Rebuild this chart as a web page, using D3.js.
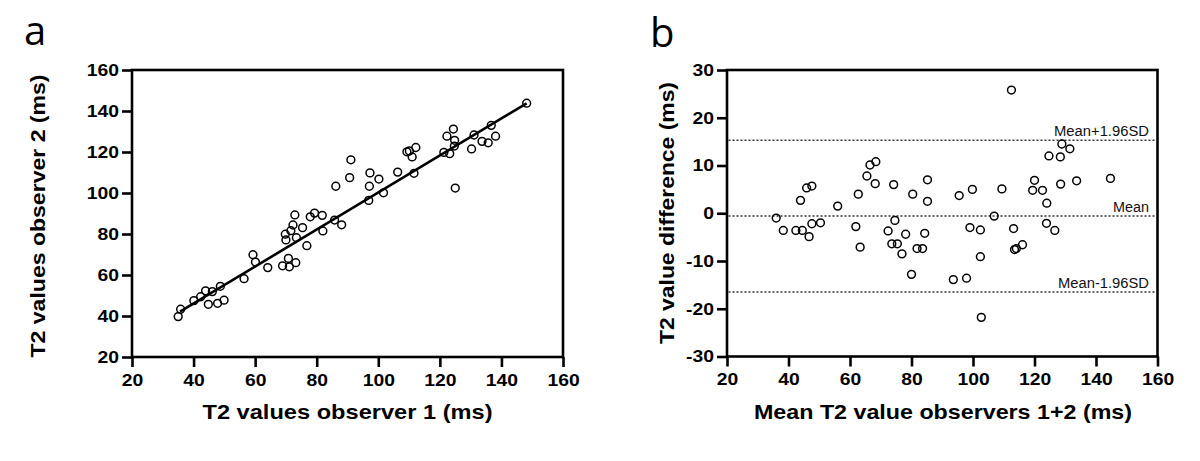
<!DOCTYPE html>
<html><head><meta charset="utf-8">
<script src="https://cdn.jsdelivr.net/npm/d3@7"></script>
<style>body{margin:0;background:#fff} svg{display:block}</style>
</head><body><svg id="c" width="1200" height="461"></svg>
<script>
// Panel a: T2 values observer 1 vs observer 2 (ms)
const obs1 = [35.0,35.8,40.1,42.3,43.9,46.1,44.8,47.8,49.9,48.7,56.4,59.3,60.1,64.1,68.9,70.8,71.1,73.2,69.8,70.0,
              71.6,72.3,72.9,73.4,75.4,76.8,77.9,79.3,81.8,82.0,85.8,88.1,86.2,90.7,91.1,96.9,97.1,97.3,100.2,101.7,
              106.3,109.3,110.1,111.0,112.2,111.6,121.3,123.2,122.3,124.4,124.8,124.7,125.0,130.3,131.1,133.7,135.7,136.7,138.1,148.2];
const obs2 = [39.7,43.3,47.5,49.4,52.3,51.9,45.7,46.2,47.7,54.5,58.2,69.9,66.3,63.6,64.5,68.1,64.0,66.0,79.9,77.1,
              81.6,84.4,89.3,78.2,83.1,74.3,88.4,90.2,89.1,81.5,86.8,84.5,103.3,107.5,116.2,96.4,103.3,109.8,106.8,100.1,
              110.2,120.1,120.5,117.6,122.2,109.6,119.8,119.2,127.7,131.2,125.7,122.9,102.4,121.5,128.3,125.2,124.5,133.0,127.7,143.8];
const fitSlope = 0.903;
const fitIntercept = 9.95;
const fitRange = [35.6, 148.2];

// Panel b: Bland-Altman
const baMean = [112.5,128.9,131.5,124.7,128.4,144.7,120.0,133.7,128.5,119.4,122.6,124.0,123.9,126.6,109.4,106.9,113.2,113.5,114.1,116.1,
                99.8,95.5,99.0,102.4,102.4,93.6,97.9,102.7,85.2,85.2,80.4,74.2,84.3,74.6,72.4,78.1,73.6,75.4,76.9,81.8,
                83.6,80.0,66.5,68.4,65.5,68.2,62.7,61.9,63.3,56.0,45.9,47.6,43.9,36.0,38.3,42.4,44.5,47.6,46.7,50.4];
const baDiff = [25.8,14.5,13.5,12.0,11.8,7.3,6.9,6.8,6.1,4.8,4.8,2.1,-2.1,-3.6,5.1,-0.6,-3.2,-7.6,-7.4,-6.6,
                5.0,3.7,-3.0,-3.5,-9.1,-13.9,-13.6,-21.8,7.0,2.5,4.0,6.0,-4.2,-1.5,-3.7,-4.4,-6.4,-6.4,-8.5,-7.4,
                -7.4,-12.8,10.1,10.8,7.8,6.2,4.0,-2.8,-7.1,1.5,5.3,5.7,2.7,-1.0,-3.6,-3.6,-3.6,-2.2,-4.9,-2.0];
const limitLabels = ["Mean+1.96SD", "Mean", "Mean-1.96SD"];
const limitValues = [15.3, -0.6, -16.5];

// Ticks
const xTicks = [20,40,60,80,100,120,140,160];
const yTicksA = [20,40,60,80,100,120,140,160];
const yTicksB = [-30,-20,-10,0,10,20,30];

const svg = d3.select("#c");
const FONT = "'Liberation Sans', Arial, sans-serif";

function stretchText(sel, sx) {
  sel.each(function(){
    const len = this.getComputedTextLength();
    d3.select(this).attr("textLength", len*sx).attr("lengthAdjust","spacingAndGlyphs");
  });
}

function panel(box, xDomain, yDomain, yTicks) {
  const x = d3.scaleLinear().domain(xDomain).range([box.l, box.r]);
  const y = d3.scaleLinear().domain(yDomain).range([box.b, box.t]);
  const g = svg.append("g");
  const ax = g.append("g").attr("transform", `translate(0,${box.b})`)
    .call(d3.axisBottom(x).tickValues(xTicks).tickSize(10).tickPadding(7).tickFormat(d3.format("d")));
  const ay = g.append("g").attr("transform", `translate(${box.l},0)`)
    .call(d3.axisLeft(y).tickValues(yTicks).tickSize(10).tickPadding(3).tickFormat(d => d < 0 ? "-" + Math.abs(d) : d));
  [ax, ay].forEach(a => {
    a.select(".domain").remove();
    a.selectAll("line").attr("stroke","#000").attr("stroke-width",2.6);
    a.selectAll("text").attr("fill","#000").style("font-family",FONT)
      .style("font-weight","bold").style("font-size","16.5px");
    stretchText(a.selectAll("text"), 1.17);
  });
  g.append("rect").attr("x",box.l).attr("y",box.t).attr("width",box.r-box.l).attr("height",box.b-box.t)
    .attr("fill","none").attr("stroke","#000").attr("stroke-width",2.6);
  return {x, y, g};
}

// Panel a
const A = panel({l:132, r:563, t:70, b:357}, [20,160], [20,160], yTicksA);
A.g.append("line")
  .attr("x1", A.x(fitRange[0])).attr("y1", A.y(fitIntercept + fitSlope*fitRange[0]))
  .attr("x2", A.x(fitRange[1])).attr("y2", A.y(fitIntercept + fitSlope*fitRange[1]))
  .attr("stroke","#000").attr("stroke-width",2.6);
A.g.selectAll("circle.pt").data(obs1.map((v,i)=>[v,obs2[i]])).join("circle")
  .attr("class","pt").attr("cx",d=>A.x(d[0])).attr("cy",d=>A.y(d[1])).attr("r",3.9)
  .attr("fill","none").attr("stroke","#000").attr("stroke-width",1.5);

// Panel b
const B = panel({l:727, r:1157.5, t:70, b:356.5}, [20,160], [-30,30], yTicksB);
B.g.selectAll("line.lim").data(limitValues).join("line").attr("class","lim")
  .attr("x1",B.x(20)+1.5).attr("x2",B.x(160)-1.5).attr("y1",d=>B.y(d)).attr("y2",d=>B.y(d))
  .attr("stroke","#333").attr("stroke-width",1.5).attr("stroke-dasharray","2,2");
const limTargetW = [95, 36, 91];
B.g.selectAll("text.lim").data(limitLabels).join("text").attr("class","lim")
  .attr("x", B.x(160)-8.5).attr("y",(d,i)=>B.y(limitValues[i])-4)
  .attr("text-anchor","end").style("font-family",FONT).style("font-size","14px").attr("fill","#111")
  .attr("textLength",(d,i)=>limTargetW[i]).attr("lengthAdjust","spacingAndGlyphs")
  .text(d=>d);
B.g.selectAll("circle.pt").data(baMean.map((v,i)=>[v,baDiff[i]])).join("circle")
  .attr("class","pt").attr("cx",d=>B.x(d[0])).attr("cy",d=>B.y(d[1])).attr("r",3.9)
  .attr("fill","none").attr("stroke","#000").attr("stroke-width",1.5);

// Titles
function title(txt, x, y, rot, w) {
  svg.append("text").attr("transform",`translate(${x},${y}) rotate(${rot})`)
    .attr("text-anchor","middle").style("font-family",FONT).style("font-weight","bold").style("font-size","21px")
    .attr("fill","#000").attr("textLength",w).attr("lengthAdjust","spacingAndGlyphs").text(txt);
}
title("T2 values observer 1 (ms)", 347.5, 419, 0, 290);
title("T2 values observer 2 (ms)", 45, 216, -90, 283);
title("Mean T2 value observers 1+2 (ms)", 943, 419, 0, 378);
title("T2 value difference (ms)", 674, 213, -90, 262);

// Panel letters
svg.append("text").attr("x",24).attr("y",45).style("font-family","'Open Sans','Noto Sans',sans-serif")
  .style("font-size","40px").attr("fill","#000").text("a");
svg.append("text").attr("x",650).attr("y",47).style("font-family","'Open Sans','Noto Sans',sans-serif")
  .style("font-size","40px").attr("fill","#000").text("b");
</script>
</body></html>
